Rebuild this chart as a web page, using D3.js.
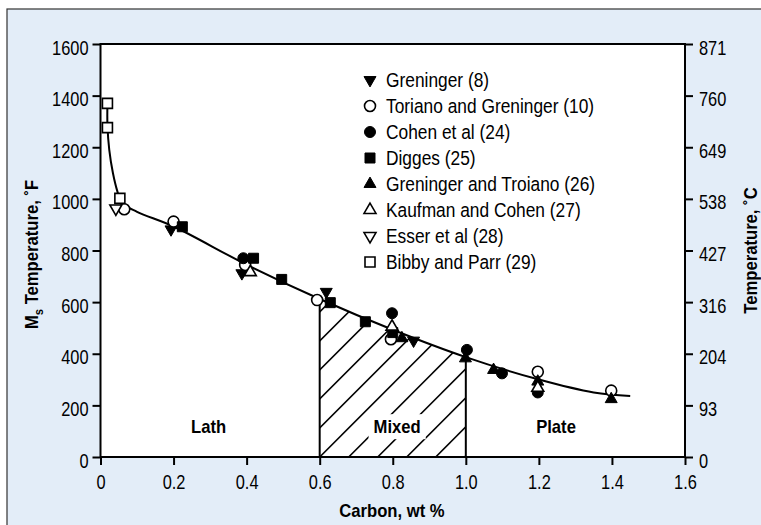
<!DOCTYPE html>
<html>
<head>
<meta charset="utf-8">
<script src="https://cdn.jsdelivr.net/npm/d3@7"></script>
<style>
  html, body { margin: 0; padding: 0; background: #ffffff; }
  svg { display: block; }
  text { font-family: "Liberation Sans", Arial, sans-serif; fill: #000; }
</style>
</head>
<body>
<svg id="chart" width="761" height="525"></svg>
<script>
// ---------- DATA ----------
const xTicks = [0, 0.2, 0.4, 0.6, 0.8, 1.0, 1.2, 1.4, 1.6];
const xTickLabels = ["0", "0.2", "0.4", "0.6", "0.8", "1.0", "1.2", "1.4", "1.6"];
const yTicksF = [0, 200, 400, 600, 800, 1000, 1200, 1400, 1600];
const yTickLabelsC = ["0", "93", "204", "316", "427", "538", "649", "760", "871"];

const greninger8   = [[0.193, 882], [0.387, 712], [0.618, 640], [0.857, 451]];
const toriano10    = [[0.065, 960], [0.2, 912], [0.396, 744], [0.593, 608], [0.795, 456], [1.197, 330], [1.398, 257]];
const cohen24      = [[0.391, 770], [0.798, 557], [1.003, 415], [1.099, 324], [1.197, 250]];
const digges25     = [[0.224, 892], [0.419, 770], [0.496, 688], [0.629, 598], [0.725, 524], [0.8, 482]];
const grenTroiano26= [[0.825, 460], [0.999, 382], [1.076, 337], [1.197, 292], [1.398, 224]];
const kaufman27    = [[0.41, 716], [0.798, 505], [1.197, 268]];
const esser28      = [[0.042, 963]];
const bibby29      = [[0.019, 1370], [0.019, 1276], [0.053, 1002]];

// fitted Ms curve
const curvePts = [[0.019, 1370], [0.019, 1285], [0.024, 1190], [0.034, 1100], [0.046, 1030], [0.058, 985],
                  [0.1, 950], [0.2, 893], [0.4, 745], [0.6, 612], [0.8, 493], [1.0, 387], [1.2, 300], [1.35, 250], [1.45, 236]];

const mixedRange = [0.6, 1.0];
const regionLabels = [["Lath", 0.296], ["Mixed", 0.812], ["Plate", 1.247]];
const regionLabelTemp = 93;

const series = [
  { name: "Greninger (8)",                data: greninger8,    shape: "tri",  inv: true,  filled: true },
  { name: "Toriano and Greninger (10)",   data: toriano10,     shape: "circ", inv: false, filled: false },
  { name: "Cohen et al (24)",             data: cohen24,       shape: "circ", inv: false, filled: true },
  { name: "Digges (25)",                  data: digges25,      shape: "sq",   inv: false, filled: true },
  { name: "Greninger and Troiano (26)",   data: grenTroiano26, shape: "tri",  inv: false, filled: true },
  { name: "Kaufman and Cohen (27)",       data: kaufman27,     shape: "tri",  inv: false, filled: false },
  { name: "Esser et al (28)",             data: esser28,       shape: "tri",  inv: true,  filled: false },
  { name: "Bibby and Parr (29)",          data: bibby29,       shape: "sq",   inv: false, filled: false }
];

// ---------- LAYOUT ----------
const svg = d3.select("#chart");
const L = 100.5, R = 685, T = 44, B = 457;
const x = d3.scaleLinear().domain([0, 1.6]).range([L, R]);
const y = d3.scaleLinear().domain([0, 1600]).range([B, T]);

// horizontally condense a text element around its anchor point
function condense(sel, k) {
  sel.each(function () {
    const t = d3.select(this);
    const ax = +t.attr("x") || 0;
    const prev = t.attr("transform") || "";
    t.attr("transform", prev + ` translate(${ax * (1 - k)},0) scale(${k},1)`);
  });
}

// background panel
svg.append("rect").attr("x", 7).attr("y", 9).attr("width", 761).attr("height", 525)
  .attr("fill", "#e3edf8").attr("stroke", "#333").attr("stroke-width", 1.2);
svg.append("rect").attr("x", L).attr("y", T).attr("width", R - L).attr("height", B - T).attr("fill", "#fff");

const defs = svg.append("defs");
const lineGen = d3.line().x(d => x(d[0])).y(d => y(d[1])).curve(d3.curveCatmullRom.alpha(0.5));
const areaGen = d3.area().x(d => x(d[0])).y1(d => y(d[1])).y0(y(0)).curve(d3.curveCatmullRom.alpha(0.5));

defs.append("clipPath").attr("id", "underCurve").append("path").attr("d", areaGen(curvePts));
defs.append("clipPath").attr("id", "mixedBand").append("rect")
  .attr("x", x(mixedRange[0])).attr("y", T).attr("width", x(mixedRange[1]) - x(mixedRange[0])).attr("height", B - T);

// hatch
const hatchOuter = svg.append("g").attr("clip-path", "url(#underCurve)");
const hatch = hatchOuter.append("g").attr("clip-path", "url(#mixedBand)");
const spacing = 29;
const x0 = x(mixedRange[0]);
for (let k = -12; k <= 20; k++) {
  const bx = x0 + k * spacing;
  hatch.append("line").attr("x1", bx).attr("y1", B).attr("x2", bx + (B - T)).attr("y2", T)
    .attr("stroke", "#000").attr("stroke-width", 1.6);
}
// vertical boundaries of mixed region
mixedRange.forEach(v => {
  const p = curvePts.find(d => d[0] === v);
  svg.append("line").attr("x1", x(v)).attr("x2", x(v)).attr("y1", y(p[1])).attr("y2", y(0))
    .attr("stroke", "#000").attr("stroke-width", 2);
});

// region labels
regionLabels.forEach(([t, v]) => {
  const g = svg.append("g");
  const tx = g.append("text").attr("x", x(v)).attr("y", y(regionLabelTemp)).attr("text-anchor", "middle")
    .attr("font-size", 18.5).attr("font-weight", "bold").text(t);
  condense(tx, 0.9);
  if (t === "Mixed") {
    const bb = tx.node().getBBox();
    const w = bb.width * 0.9;
    g.insert("rect", "text").attr("x", x(v) - w / 2 - 5).attr("y", bb.y - 2).attr("width", w + 10).attr("height", bb.height + 4).attr("fill", "#fff");
  }
});

// curve
svg.append("path").attr("d", lineGen(curvePts)).attr("fill", "none").attr("stroke", "#000").attr("stroke-width", 2);

// markers
function symPath(s) {
  if (s.shape === "circ") return d3.symbol(d3.symbolCircle, 95)();
  if (s.shape === "sq") return d3.symbol(d3.symbolSquare, 100)();
  return d3.symbol(d3.symbolTriangle, 62)();
}
function drawMarker(g, s, cx, cy) {
  g.append("path").attr("d", symPath(s))
    .attr("transform", `translate(${cx},${cy})` + (s.inv ? " rotate(180)" : ""))
    .attr("fill", s.filled ? "#000" : "#fff").attr("stroke", "#000").attr("stroke-width", s.filled ? 1 : 1.6);
}
const markG = svg.append("g");
series.forEach(s => s.data.forEach(d => drawMarker(markG, s, x(d[0]), y(d[1]))));

// axes frame
svg.append("rect").attr("x", L).attr("y", T).attr("width", R - L).attr("height", B - T)
  .attr("fill", "none").attr("stroke", "#000").attr("stroke-width", 2);

const axL = svg.append("g").attr("transform", `translate(${L},0)`)
  .call(d3.axisLeft(y).tickValues(yTicksF).tickFormat(d3.format("d")).tickSize(8).tickPadding(4));
const axR = svg.append("g").attr("transform", `translate(${R},0)`)
  .call(d3.axisRight(y).tickValues(yTicksF).tickFormat((d, i) => yTickLabelsC[i]).tickSize(8).tickPadding(6));
const axB = svg.append("g").attr("transform", `translate(0,${B})`)
  .call(d3.axisBottom(x).tickValues(xTicks).tickFormat((d, i) => xTickLabels[i]).tickSize(8).tickPadding(10));
[axL, axR, axB].forEach(a => {
  a.select(".domain").remove();
  a.selectAll(".tick line").attr("stroke", "#000").attr("stroke-width", 2);
  a.selectAll(".tick text").attr("font-size", 20).attr("font-family", null);
  condense(a.selectAll(".tick text"), 0.82);
});
axL.selectAll(".tick text").attr("dy", "0.5em");
axR.selectAll(".tick text").attr("dy", "0.5em");

// axis titles
svg.append("text").attr("x", 392).attr("y", 517).attr("text-anchor", "middle")
  .attr("font-size", 18.5).attr("font-weight", "bold").text("Carbon, wt %")
  .call(s => condense(s, 0.9));
const lt = svg.append("text").attr("transform", `translate(38,${(T + B) / 2 + 4}) rotate(-90)`)
  .attr("text-anchor", "middle").attr("font-size", 18.5).attr("font-weight", "bold");
lt.append("tspan").text("M");
lt.append("tspan").attr("font-size", 12.5).attr("dy", 5).text("s");
lt.append("tspan").attr("dy", -5).text(" Temperature, ˚F");
condense(lt, 0.9);
const rt = svg.append("text").attr("transform", `translate(757,${(T + B) / 2}) rotate(-90)`)
  .attr("text-anchor", "middle").attr("font-size", 18.5).attr("font-weight", "bold").text("Temperature, ˚C");
condense(rt, 0.9);

// legend
const legX = 370, legY0 = 80, legDy = 26;
series.forEach((s, i) => {
  const cy = legY0 + i * legDy;
  drawMarker(svg, s, legX, cy);
  const t = svg.append("text").attr("x", legX + 16).attr("y", cy).attr("dy", "0.36em").attr("font-size", 19.5).text(s.name);
  condense(t, 0.89);
});
</script>
</body>
</html>
